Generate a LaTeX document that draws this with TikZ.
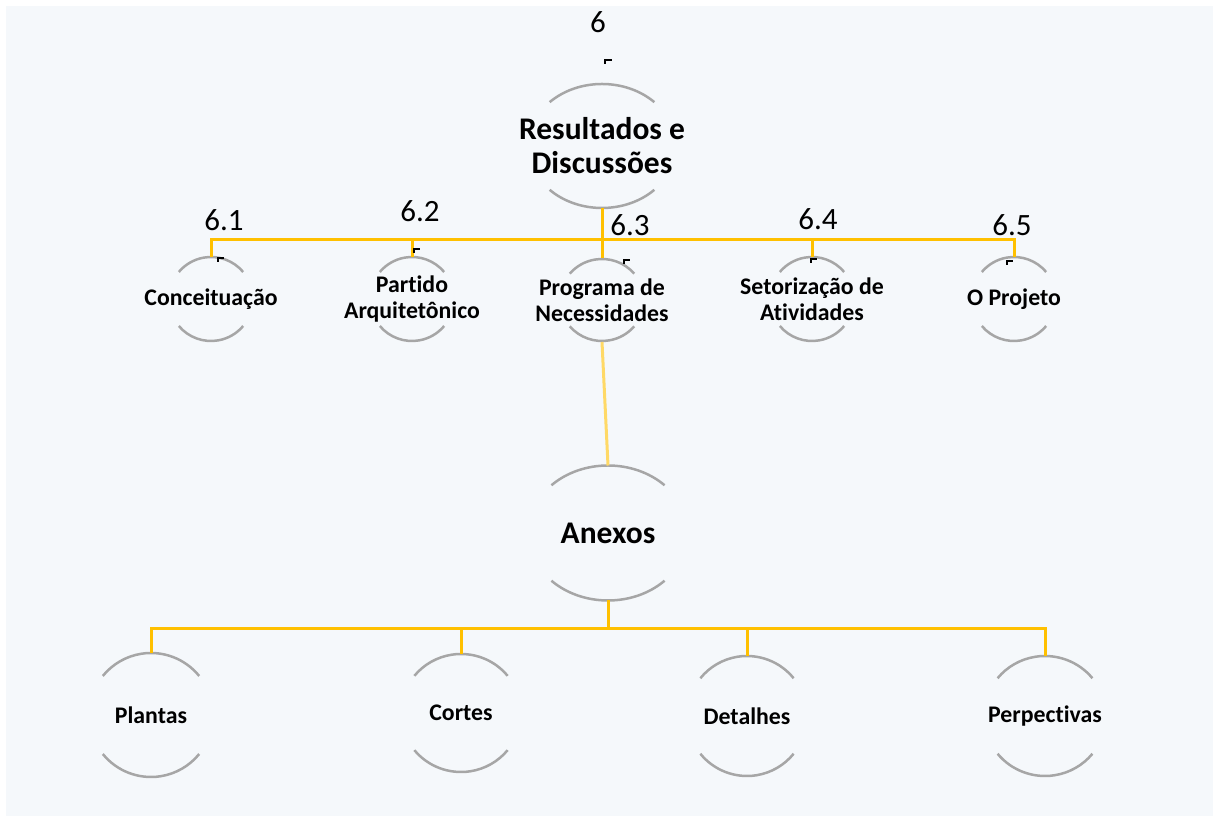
\documentclass[tikz,border=0pt]{standalone}
\usepackage{fontspec}
\setmainfont{Carlito}[Ligatures=NoCommon]
\usepackage{tikz}
\usetikzlibrary{shapes.geometric}
\definecolor{gold}{HTML}{FFC000}
\definecolor{paleGold}{HTML}{FFD966}
\definecolor{rimGray}{HTML}{A6A6A6}
\definecolor{paper}{HTML}{F5F8FB}
\tikzstyle{bubble} = [ellipse, inner sep=0pt, outer sep=0pt]
\tikzstyle{small} = [bubble, minimum width=84pt, minimum height=84pt]
\tikzstyle{low} = [bubble, minimum width=124pt, minimum height=124pt]
\tikzstyle{word} = [font=\bfseries\fontsize{23.8}{25.5}\selectfont, align=center, inner sep=0pt]
\tikzstyle{big} = [font=\bfseries\fontsize{31.5}{34}\selectfont, align=center, inner sep=0pt]
\tikzstyle{num} = [font=\fontsize{31}{31}\selectfont, inner sep=0pt]
\tikzstyle{tie} = [draw=gold, line width=3pt]
\tikzstyle{rim} = [draw=rimGray, line width=2.5pt]
\tikzstyle{nub} = [draw=black, line width=1.6pt]

\begin{document}
\begin{tikzpicture}[x=1pt, y=1pt]
        \useasboundingbox (0,0) rectangle (1218,818);
        \fill[paper] (6,2) rectangle (1213,812);
        % main topic
        \node (res) [bubble, minimum width=148pt, minimum height=124pt, label={[big]center:Resultados e\\Discussões}] at (602,672) {};
        \node (conc) [small, label={[word]center:Conceituação}] at (211,519) {};
        \node (part) [small, label={[word]center:Partido\\Arquitetônico}] at (412,519) {};
        \node (prog) [small, label={[word]center:Programa de\\Necessidades}] at (602,518) {};
        \node (setor) [small, label={[word]center:Setorização de\\Atividades}] at (812,519) {};
        \node (proj) [small, label={[word]center:O Projeto}] at (1014,519) {};
        % annexes
        \node (anexos) [bubble, minimum width=160pt, minimum height=135pt, label={[big]center:Anexos}] at (608,285) {};
        \node (plant) [low, label={[word]center:Plantas}] at (151,103) {};
        \node (cort) [low, minimum height=118pt, label={[word]center:Cortes}] at (461,105) {};
        \node (detal) [low, minimum height=120pt, label={[word]center:Detalhes}] at (747,102) {};
        \node (persp) [low, minimum height=120pt, label={[word]center:Perpectivas}] at (1045,102) {};
        % numbers
        \node (n6) [num] at (598,796) {6};
        \node (n61) [num] at (224,598) {6.1};
        \node (n62) [num] at (420,607) {6.2};
        \node (n63) [num] at (630,593) {6.3};
        \node (n64) [num] at (818,599) {6.4};
        \node (n65) [num] at (1012,593) {6.5};
        \coordinate (bus1) at (602,578);
        \coordinate (bus2) at (608,189);
        \foreach \n/\rx/\ry/\a in {res/74/62/45, conc/42/42/40, part/42/42/40, prog/42/41/40, setor/42/42/40, proj/42/42/40, anexos/80/67.5/45, plant/62/62/39, cort/60/59/39, detal/60/60/39, persp/61/60/39} {
            \pgfmathsetmacro\b{180-\a}
            \pgfmathsetmacro\c{180+\a}
            \pgfmathsetmacro\d{360-\a}
            \draw[rim] (\n.center) ++(\a:\rx pt and \ry pt) arc[start angle=\a, end angle=\b, x radius=\rx pt, y radius=\ry pt];
            \draw[rim] (\n.center) ++(\c:\rx pt and \ry pt) arc[start angle=\c, end angle=\d, x radius=\rx pt, y radius=\ry pt];
        }
        \draw[tie] (res.south) -- (prog.north);
        \foreach \n in {conc, part, setor, proj}
            \draw[tie] (bus1) -| (\n.north);
        \draw[draw=paleGold, line width=3pt] (prog.south) -- (anexos.north);
        \draw[tie] (anexos.south) -- (bus2);
        \foreach \n in {plant, cort, detal, persp}
            \draw[tie] (bus2) -| (\n.north);
        % stray marks
        \draw[nub] (605,754) |- (612,758);
        \draw[nub] (218,556) |- (224,560);
        \draw[nub] (414,565) |- (420,569);
        \draw[nub] (624,554) |- (630,558);
        \draw[nub] (811,555) |- (817,559);
        \draw[nub] (1007,553) |- (1013,557);
    \end{tikzpicture}
\end{document}
